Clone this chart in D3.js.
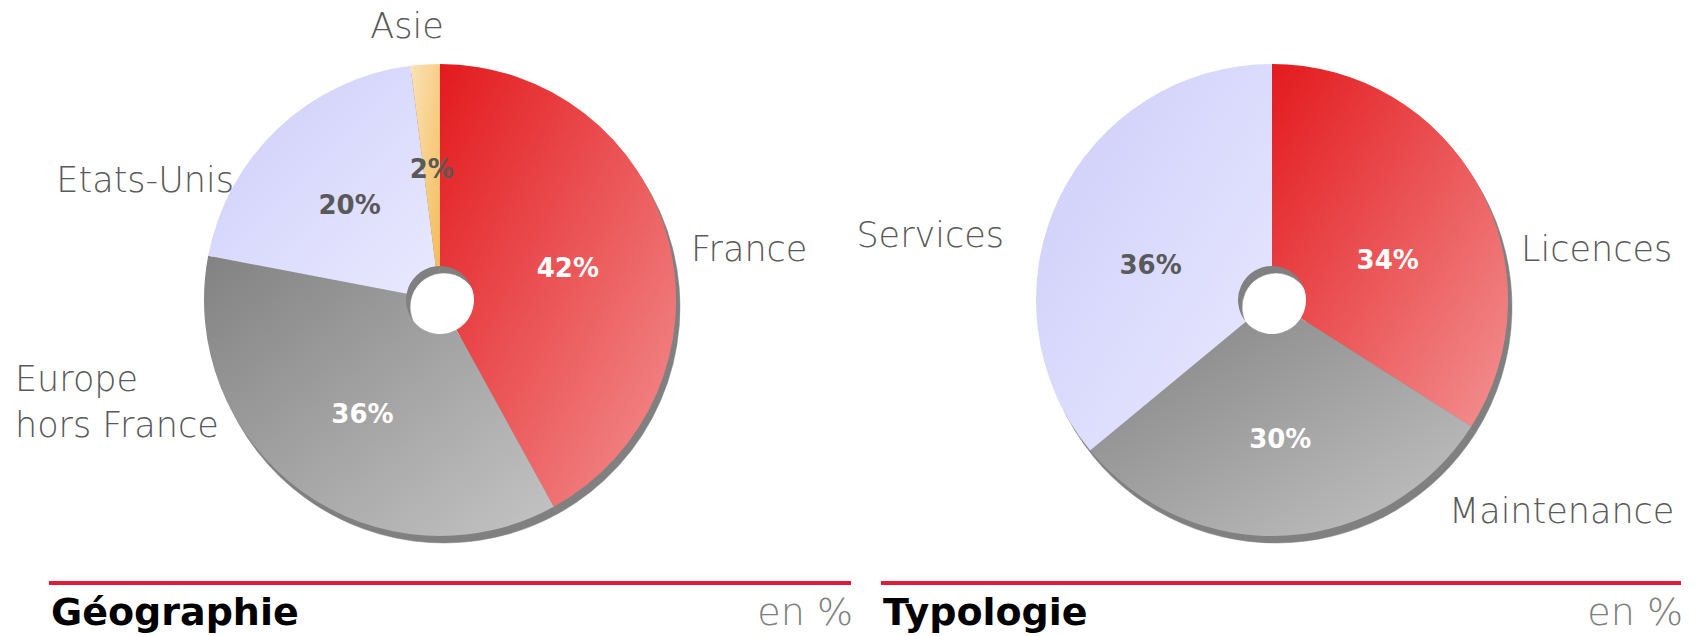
<!DOCTYPE html>
<html lang="fr">
<head>
  <meta charset="UTF-8" />
  <title>Géographie / Typologie</title>
  <script src="https://d3js.org/d3.v7.min.js"></script>
  <style>
    html, body { margin: 0; padding: 0; background: #fff; }
    svg { display: block; }
    .cat { font-family: "DejaVu Sans", sans-serif; font-weight: 200; font-size: 35px; fill: #595959; }
    .pct { font-family: "DejaVu Sans", sans-serif; font-weight: bold; font-size: 26px; }
    .title { font-family: "DejaVu Sans", sans-serif; font-weight: bold; font-size: 38px; fill: #000; }
    .unit { font-family: "DejaVu Sans", sans-serif; font-weight: 200; font-size: 38px; fill: #808080; }
  </style>
</head>
<body>
<svg width="1704" height="636"></svg>

<script>
// data
const geoLabels = ["France", "Europe hors France", "Etats-Unis", "Asie"];
const geoValues = [42, 36, 20, 2];
const typoLabels = ["Licences", "Maintenance", "Services"];
const typoValues = [34, 30, 36];

// slice colours (gradient start -> end), shared by both pies by position
const gradients = [
  ["#e31a1e", "#f39191"],   // red
  ["#828282", "#c4c4c4"],   // grey
  ["#cdcdfa", "#e9e9ff"],   // lavender
  ["#fbe2b7", "#f4bc5c"]    // orange
];
const pctColor = ["#fff", "#fff", "#595959", "#595959"];

// label placement relative to pie centre; pdx/pdy nudge the percentage
const labelPos = {
  "France":             { dx: 251, dy: -39, anchor: "start" },
  "Europe hors France": { dx: -425, dy: 91, anchor: "start", lines: ["Europe", "hors France"], pdy: 6 },
  "Etats-Unis":         { dx: -206, dy: -108, anchor: "end" },
  "Asie":               { dx: -33, dy: -262, anchor: "middle" },
  "Licences":           { dx: 249, dy: -39, anchor: "start", pdy: 23 },
  "Maintenance":        { dx: 177, dy: 223, anchor: "start", pdy: 6 },
  "Services":           { dx: -268, dy: -53, anchor: "end", pdx: -2, pdy: 20 }
};

const svg = d3.select("svg");
const defs = svg.append("defs");

const R = 236, r0 = 34, shadow = { dx: 4, dy: 7 };

function drawPie(id, cx, cy, labels, values) {
  const pie = d3.pie().sort(null).value(d => d.v);
  const arcs = pie(labels.map((l, i) => ({ l, v: values[i], i })));
  const arc = d3.arc().innerRadius(r0).outerRadius(R);
  const labelArc = d3.arc().innerRadius(132).outerRadius(132);

  const g = svg.append("g").attr("transform", `translate(${cx},${cy})`);

  // drop shadow
  g.append("g")
    .attr("transform", `translate(${shadow.dx},${shadow.dy})`)
    .selectAll("path")
    .data(arcs)
    .join("path")
    .attr("d", arc)
    .attr("fill", "#808080")
    .attr("stroke", "#808080")
    .attr("stroke-width", 0.5);

  arcs.forEach(a => {
    const gr = defs.append("linearGradient")
      .attr("id", `${id}-g${a.data.i}`)
      .attr("x1", 0).attr("y1", 0).attr("x2", 1).attr("y2", 1);
    gr.append("stop").attr("offset", "0%").attr("stop-color", gradients[a.data.i][0]);
    gr.append("stop").attr("offset", "100%").attr("stop-color", gradients[a.data.i][1]);
  });

  g.append("g")
    .selectAll("path")
    .data(arcs)
    .join("path")
    .attr("d", arc)
    .attr("fill", d => `url(#${id}-g${d.data.i})`);

  // percentages
  g.selectAll("text.pct")
    .data(arcs)
    .join("text")
    .attr("class", "pct")
    .attr("text-anchor", "middle")
    .attr("x", d => labelArc.centroid(d)[0] + (labelPos[d.data.l].pdx || 0))
    .attr("y", d => labelArc.centroid(d)[1] + 10 + (labelPos[d.data.l].pdy || 0))
    .attr("fill", d => pctColor[d.data.i])
    .text(d => d.data.v + "%");

  // category labels
  arcs.forEach(a => {
    const p = labelPos[a.data.l];
    const t = g.append("text")
      .attr("class", "cat")
      .attr("text-anchor", p.anchor)
      .attr("x", p.dx)
      .attr("y", p.dy);
    (p.lines || [a.data.l]).forEach((line, k) => {
      t.append("tspan").attr("x", p.dx).attr("dy", k ? 46 : 0).text(line);
    });
  });
}

drawPie("geo", 440, 300, geoLabels, geoValues);
drawPie("typo", 1272, 300, typoLabels, typoValues);

// footer titles
const footers = [
  { title: "Géographie", x0: 49, x1: 851 },
  { title: "Typologie", x0: 881, x1: 1681 }
];
footers.forEach(f => {
  svg.append("line")
    .attr("x1", f.x0).attr("x2", f.x1)
    .attr("y1", 583).attr("y2", 583)
    .attr("stroke", "#e31937")
    .attr("stroke-width", 4);
  svg.append("text")
    .attr("class", "title")
    .attr("x", f.x0 + 2).attr("y", 625)
    .text(f.title);
  svg.append("text")
    .attr("class", "unit")
    .attr("text-anchor", "end")
    .attr("x", f.x1 + 2).attr("y", 625)
    .text("en %");
});
</script>
</body>
</html>
